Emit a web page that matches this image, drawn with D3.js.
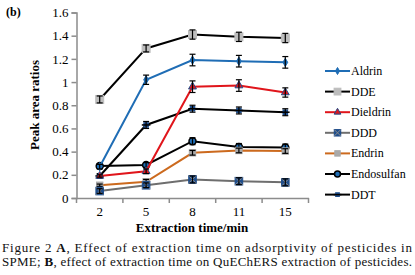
<!DOCTYPE html>
<html>
<head>
<style>
html, body { margin: 0; padding: 0; background: #fff; }
svg { display: block; }
</style>
</head>
<body>
<svg width="415" height="275"></svg>
<script src="https://cdn.jsdelivr.net/npm/d3@7/dist/d3.min.js"></script>
<script>
// extraction time categories and peak area ratios
var times = ["2", "5", "8", "11", "15"];
var yTicks = [0, 0.2, 0.4, 0.6, 0.8, 1, 1.2, 1.4, 1.6];

var aldrin     = [0.27, 1.02, 1.19, 1.18, 1.17];
var dde        = [0.85, 1.29, 1.41, 1.39, 1.38];
var dieldrin   = [0.19, 0.23, 0.96, 0.97, 0.91];
var ddd        = [0.06, 0.11, 0.16, 0.145, 0.135];
var endrin     = [0.11, 0.14, 0.39, 0.41, 0.405];
var endosulfan = [0.275, 0.285, 0.49, 0.44, 0.435];
var ddt        = [0.19, 0.63, 0.77, 0.755, 0.74];

var errAldrin     = [0.02, 0.04, 0.05, 0.05, 0.05];
var errDde        = [0.03, 0.03, 0.04, 0.04, 0.04];
var errDieldrin   = [0.01, 0.02, 0.05, 0.05, 0.04];
var errDdd        = [0.02, 0.02, 0.03, 0.03, 0.03];
var errEndrin     = [0.01, 0.02, 0.02, 0.02, 0.02];
var errEndosulfan = [0.02, 0.02, 0.03, 0.03, 0.03];
var errDdt        = [0.02, 0.03, 0.03, 0.03, 0.03];

var series = [
  {name: "Aldrin",     values: aldrin,     err: errAldrin,     line: "#1f6db5", shape: "diamond", fill: "#1f6db5", stroke: "#1f6db5", size: 3.5},
  {name: "DDE",        values: dde,        err: errDde,        line: "#000",    shape: "square",  fill: "#bdbdbd", stroke: "#bdbdbd", size: 4},
  {name: "Dieldrin",   values: dieldrin,   err: errDieldrin,   line: "#e0151b", shape: "triangle",fill: "#e0151b", stroke: "#1f4e8c", size: 3.5},
  {name: "DDD",        values: ddd,        err: errDdd,        line: "#6e6e6e", shape: "xsquare", fill: "#1f4e8c", stroke: "#1f4e8c", size: 3.8},
  {name: "Endrin",     values: endrin,     err: errEndrin,     line: "#cc6a1e", shape: "square",  fill: "#a9a9a9", stroke: "#a9a9a9", size: 3.2},
  {name: "Endosulfan", values: endosulfan, err: errEndosulfan, line: "#000",    shape: "circle",  fill: "#1f6db5", stroke: "#000",    size: 3.5},
  {name: "DDT",        values: ddt,        err: errDdt,        line: "#000",    shape: "plus",    fill: "#1f4e8c", stroke: "#000",    size: 2.8}
];

var svg = d3.select("svg");
var serif = "'Liberation Serif', 'Times New Roman', serif";

var x = d3.scaleBand().domain(times).range([76.5, 308.5]);
var y = d3.scaleLinear().domain([0, 1.6]).range([198, 12.5]);
var cx = function(i){ return x(times[i]) + x.bandwidth() / 2; };

// axes
var gy = svg.append("g").attr("transform", "translate(76.5,0)")
  .attr("font-family", serif)
  .call(d3.axisLeft(y).tickValues(yTicks).tickSize(5).tickPadding(3)
    .tickFormat(function(d){ return String(+d.toFixed(1)); }));
gy.attr("font-family", serif).attr("font-size", 13);
gy.select(".domain").attr("stroke", "#8c8c8c").attr("stroke-width", 1.5);
gy.selectAll(".tick line").attr("stroke", "#8c8c8c").attr("stroke-width", 1.5);
gy.selectAll("text").style("font-family", serif).attr("font-size", 13).attr("fill", "#000");

var gx = svg.append("g").attr("transform", "translate(0,198)")
  .call(d3.axisBottom(x).tickSize(0).tickPadding(9));
gx.attr("font-family", serif).attr("font-size", 13);
gx.select(".domain").attr("stroke", "#8c8c8c").attr("stroke-width", 1.5);
gx.selectAll("text").style("font-family", serif).attr("font-size", 13).attr("fill", "#000");
// tick marks between categories
gx.selectAll(".sep").data(times.concat(["end"])).enter().append("line")
  .attr("x1", function(d, i){ return x.range()[0] + i * x.step(); })
  .attr("x2", function(d, i){ return x.range()[0] + i * x.step(); })
  .attr("y1", 0).attr("y2", 5)
  .attr("stroke", "#8c8c8c").attr("stroke-width", 1.5);

// axis titles
svg.append("text")
  .attr("transform", "translate(39,105) rotate(-90)")
  .attr("text-anchor", "middle")
  .style("font-family", serif).attr("font-weight", "bold").attr("font-size", 13)
  .text("Peak area ratios");
svg.append("text")
  .attr("x", 192).attr("y", 232)
  .attr("text-anchor", "middle")
  .style("font-family", serif).attr("font-weight", "bold").attr("font-size", 13)
  .text("Extraction time/min");
svg.append("text")
  .attr("x", 6).attr("y", 16)
  .style("font-family", serif).attr("font-weight", "bold").attr("font-size", 12)
  .text("(b)");

function drawMarker(g, s, px, py, scale) {
  var r = s.size * (scale || 1);
  if (s.shape === "diamond") {
    g.append("path").attr("d", d3.symbol(d3.symbolDiamond, r * r * 1.6)()).attr("transform", "translate(" + px + "," + py + ")")
      .attr("fill", s.fill).attr("stroke", s.stroke);
  } else if (s.shape === "square") {
    g.append("rect").attr("x", px - r).attr("y", py - r).attr("width", 2 * r).attr("height", 2 * r)
      .attr("fill", s.fill).attr("stroke", s.stroke);
  } else if (s.shape === "triangle") {
    g.append("path").attr("d", d3.symbol(d3.symbolTriangle, r * r * 2.2)()).attr("transform", "translate(" + px + "," + py + ")")
      .attr("fill", s.fill).attr("stroke", s.stroke).attr("stroke-width", 1);
  } else if (s.shape === "xsquare") {
    g.append("rect").attr("x", px - r).attr("y", py - r).attr("width", 2 * r).attr("height", 2 * r)
      .attr("fill", s.fill).attr("stroke", s.stroke);
    g.append("path").attr("d", "M" + (px - r) + "," + (py - r) + "L" + (px + r) + "," + (py + r) + "M" + (px + r) + "," + (py - r) + "L" + (px - r) + "," + (py + r))
      .attr("stroke", "#888").attr("stroke-width", 1);
  } else if (s.shape === "circle") {
    g.append("circle").attr("cx", px).attr("cy", py).attr("r", r)
      .attr("fill", s.fill).attr("stroke", s.stroke).attr("stroke-width", 1.5);
  } else if (s.shape === "plus") {
    g.append("rect").attr("x", px - r).attr("y", py - r).attr("width", 2 * r).attr("height", 2 * r)
      .attr("fill", s.fill);
    g.append("path").attr("d", "M" + (px - r - 1.5) + "," + py + "L" + (px + r + 1.5) + "," + py)
      .attr("stroke", s.stroke).attr("stroke-width", 1.5);
  }
}

var line = d3.line().x(function(d, i){ return cx(i); }).y(function(d){ return y(d); });

// draw in reverse so upper-listed series sit on top; error bars over markers
series.slice().reverse().forEach(function(s) {
  var g = svg.append("g");
  g.append("path").attr("d", line(s.values))
    .attr("fill", "none").attr("stroke", s.line).attr("stroke-width", 2);
  s.values.forEach(function(v, i) {
    var px = cx(i), e = s.err[i];
    drawMarker(g, s, px, y(v));
    g.append("line").attr("x1", px).attr("x2", px).attr("y1", y(v + e)).attr("y2", y(v - e))
      .attr("stroke", "#000").attr("stroke-width", 1.2);
    [v + e, v - e].forEach(function(w) {
      g.append("line").attr("x1", px - 3).attr("x2", px + 3).attr("y1", y(w)).attr("y2", y(w))
        .attr("stroke", "#000").attr("stroke-width", 1.2);
    });
  });
});

// legend
var leg = svg.append("g");
series.forEach(function(s, i) {
  var ly = 71 + i * 20.6;
  leg.append("line").attr("x1", 325).attr("x2", 350).attr("y1", ly).attr("y2", ly)
    .attr("stroke", s.line).attr("stroke-width", 2);
  drawMarker(leg, s, 337.5, ly, 0.85);
  leg.append("text").attr("x", 351).attr("y", ly + 4)
    .style("font-family", serif).attr("font-size", 12).text(s.name);
});

// caption
var cap = svg.append("text").style("font-family", serif).attr("font-size", 13).attr("fill", "#111")
  .attr("x", 2).attr("y", 252).attr("textLength", 410).attr("lengthAdjust", "spacing");
cap.append("tspan").text("Figure 2  ");
cap.append("tspan").attr("font-weight", "bold").text("A");
cap.append("tspan").text(", Effect of extraction time on adsorptivity of pesticides in");
var cap2 = svg.append("text").style("font-family", serif).attr("font-size", 13).attr("fill", "#111")
  .attr("x", 2).attr("y", 266).attr("textLength", 410).attr("lengthAdjust", "spacing");
cap2.append("tspan").text("SPME; ");
cap2.append("tspan").attr("font-weight", "bold").text("B");
cap2.append("tspan").text(", effect of extraction time on QuEChERS extraction of pesticides.");
</script>
</body>
</html>
